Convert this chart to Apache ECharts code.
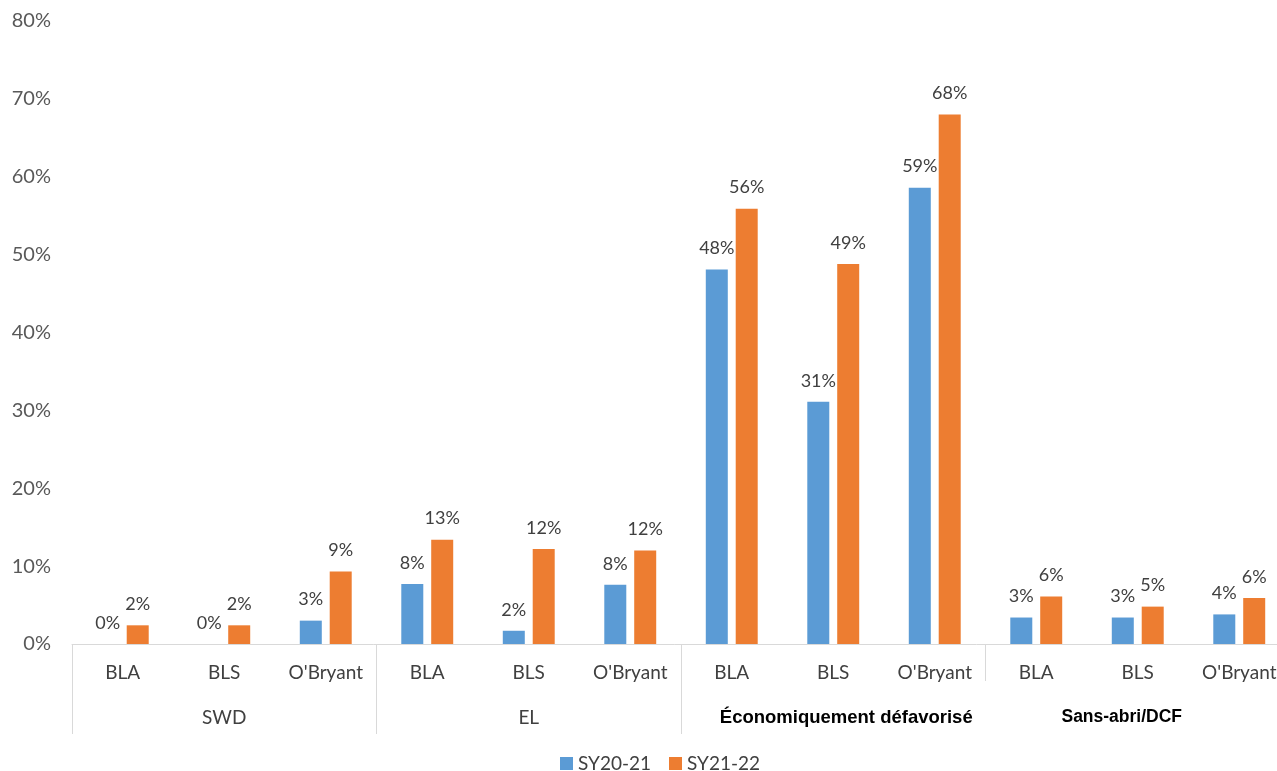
<!DOCTYPE html>
<html>
<head>
<meta charset="utf-8">
<script src="https://cdn.jsdelivr.net/npm/echarts@6/dist/echarts.min.js"></script>
<style>
html,body{margin:0;padding:0;background:#fff;}
#chart{width:1277px;height:771px;}
</style>
</head>
<body>
<div id="chart"></div>
<script>
const groups = ['SWD', 'EL', 'Économiquement défavorisé', 'Sans-abri/DCF'];
const schools = ['BLA', 'BLS', "O'Bryant", 'BLA', 'BLS', "O'Bryant", 'BLA', 'BLS', "O'Bryant", 'BLA', 'BLS', "O'Bryant"];
const seriesNames = ['SY20-21', 'SY21-22'];
const sy2021 = [0, 0, 3.0, 7.7, 1.7, 7.6, 48.1, 31.1, 58.6, 3.4, 3.4, 3.8];
const sy2122 = [2.4, 2.4, 9.3, 13.4, 12.2, 12.0, 55.9, 48.8, 68.0, 6.1, 4.8, 5.9];
const yTicks = [0, 10, 20, 30, 40, 50, 60, 70, 80];

const txt = '#404040';
const font = 'Lato';
const lineCol = '#d9d9d9';

const chart = echarts.init(document.getElementById('chart'));
const labelCfg = {
  show: true, position: 'top', distance: 12,
  color: txt, fontFamily: font, fontSize: 18,
  formatter: p => Math.round(p.value) + '%'
};
chart.setOption({
  animation: false,
  backgroundColor: '#fff',
  grid: { left: 72, right: -13, top: 21, bottom: 127, containLabel: false, outerBoundsMode: 'none' },
  legend: {
    data: seriesNames, left: 555, top: 749, itemWidth: 13, itemHeight: 13, itemGap: 18,
    icon: 'rect',
    textStyle: { color: txt, fontFamily: font, fontSize: 19 }
  },
  xAxis: [
    {
      type: 'category', data: schools, position: 'bottom',
      axisLine: { show: true, lineStyle: { color: lineCol, width: 1 } },
      axisTick: { show: true, length: 37, interval: (i) => i % 3 === 0, lineStyle: { color: lineCol } },
      axisLabel: { interval: 0, margin: 19, color: txt, fontFamily: font, fontSize: 19 }
    },
    {
      type: 'category', data: groups, position: 'bottom',
      axisLine: { show: false },
      axisTick: { show: true, length: 90, interval: (i) => i < 3, lineStyle: { color: lineCol } },
      axisLabel: {
        interval: 0, margin: 64, color: txt, fontFamily: font, fontSize: 19,
        formatter: (v, i) => i === 2 ? '{e|' + v + '}' : (i === 3 ? '{s|' + v + '}' : v),
        rich: {
          e: { fontFamily: 'Liberation Sans', fontWeight: 'bold', fontSize: 18.5, color: '#000', padding: [0, 0, 0, 26] },
          s: { fontFamily: 'Liberation Sans', fontWeight: 'bold', fontSize: 17.5, color: '#000', padding: [0, 32, 10, 0] }
        }
      }
    }
  ],
  yAxis: {
    type: 'value', min: 0, max: 80, interval: 10,
    axisLine: { show: false }, axisTick: { show: false }, splitLine: { show: false },
    axisLabel: {
      margin: 21, color: '#595959', fontFamily: font, fontSize: 20,
      formatter: v => yTicks.includes(v) ? v + '%' : ''
    }
  },
  series: [
    { name: seriesNames[0], type: 'bar', xAxisIndex: 0, data: sy2021, barWidth: 22, barGap: '36%',
      itemStyle: { color: '#5B9BD5' }, label: labelCfg },
    { name: seriesNames[1], type: 'bar', xAxisIndex: 0, data: sy2122, barWidth: 22, barGap: '36%',
      itemStyle: { color: '#ED7D31' }, label: labelCfg }
  ]
});
</script>
</body>
</html>
